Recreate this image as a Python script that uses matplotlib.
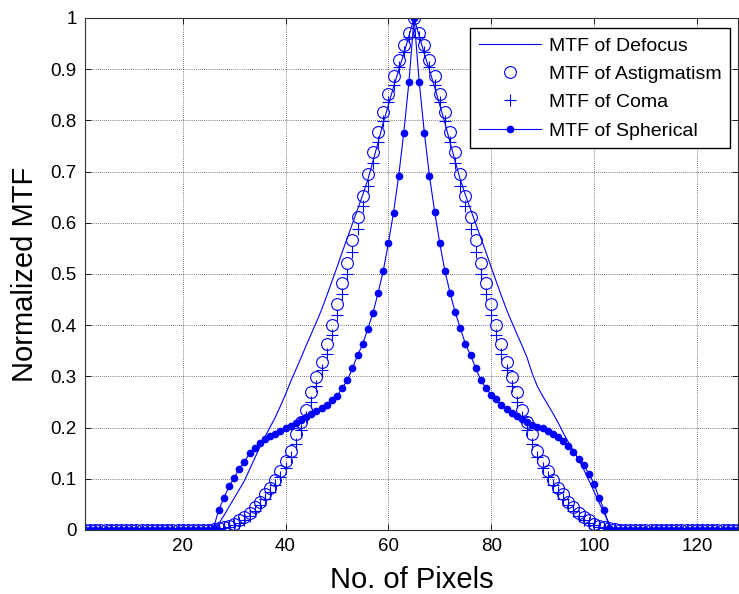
import numpy as np
import matplotlib
matplotlib.use("Agg")
import matplotlib.pyplot as plt

plt.rcParams['font.family'] = ['Liberation Sans', 'DejaVu Sans']

# pixel index 1..128
pixels = list(range(1, 129))

# MTF of Defocus
defocus = ([0.0] * 25 +
           [0.0, 0.012, 0.028, 0.045, 0.062, 0.079, 0.096, 0.118, 0.140, 0.162,
            0.182, 0.201, 0.220, 0.242, 0.265, 0.290, 0.313, 0.336, 0.360, 0.383,
            0.406, 0.430, 0.457, 0.485, 0.513, 0.542, 0.570, 0.598, 0.626, 0.654,
            0.684, 0.720, 0.757, 0.795, 0.830, 0.865, 0.898, 0.930, 0.965, 1.000,
            0.965, 0.930, 0.898, 0.865, 0.830, 0.795, 0.757, 0.720, 0.684, 0.654,
            0.626, 0.598, 0.570, 0.542, 0.513, 0.485, 0.457, 0.430, 0.406, 0.383,
            0.360, 0.336, 0.305, 0.280, 0.262, 0.245, 0.228, 0.210, 0.190, 0.172,
            0.155, 0.138, 0.118, 0.097, 0.075, 0.053, 0.032, 0.012, 0.0] +
           [0.0] * 24)

# MTF of Astigmatism
astig = ([0.0] * 25 +
         [0.002, 0.004, 0.006, 0.008, 0.012, 0.019, 0.025, 0.034, 0.045, 0.055,
          0.070, 0.082, 0.097, 0.115, 0.134, 0.155, 0.187, 0.210, 0.235, 0.270,
          0.298, 0.329, 0.363, 0.401, 0.441, 0.482, 0.521, 0.567, 0.612, 0.652,
          0.695, 0.739, 0.777, 0.817, 0.852, 0.886, 0.917, 0.947, 0.971, 1.000,
          0.971, 0.947, 0.917, 0.886, 0.852, 0.817, 0.777, 0.739, 0.695, 0.652,
          0.612, 0.567, 0.521, 0.482, 0.441, 0.401, 0.363, 0.329, 0.298, 0.270,
          0.235, 0.210, 0.187, 0.155, 0.134, 0.115, 0.097, 0.082, 0.070, 0.055,
          0.045, 0.034, 0.025, 0.019, 0.012, 0.008, 0.006, 0.004, 0.002] +
         [0.0] * 24)

# MTF of Coma
coma = ([0.0] * 25 +
        [0.001, 0.002, 0.004, 0.006, 0.009, 0.014, 0.020, 0.028, 0.037, 0.048,
         0.060, 0.074, 0.088, 0.104, 0.122, 0.142, 0.168, 0.196, 0.220, 0.250,
         0.282, 0.312, 0.344, 0.380, 0.420, 0.460, 0.500, 0.542, 0.588, 0.632,
         0.672, 0.716, 0.758, 0.798, 0.836, 0.870, 0.904, 0.934, 0.962, 1.000,
         0.962, 0.934, 0.904, 0.870, 0.836, 0.798, 0.758, 0.716, 0.672, 0.632,
         0.588, 0.542, 0.500, 0.460, 0.420, 0.380, 0.344, 0.312, 0.282, 0.250,
         0.220, 0.196, 0.168, 0.142, 0.122, 0.104, 0.088, 0.074, 0.060, 0.048,
         0.037, 0.028, 0.020, 0.014, 0.009, 0.006, 0.004, 0.002, 0.001] +
        [0.0] * 24)

# MTF of Spherical
spherical = ([0.0] * 25 +
             [0.004, 0.039, 0.062, 0.085, 0.101, 0.120, 0.133, 0.150, 0.160, 0.170,
              0.177, 0.183, 0.188, 0.193, 0.199, 0.204, 0.209, 0.214, 0.220, 0.227,
              0.232, 0.238, 0.244, 0.253, 0.261, 0.277, 0.292, 0.316, 0.341, 0.363,
              0.393, 0.424, 0.463, 0.506, 0.560, 0.620, 0.691, 0.776, 0.875, 1.000,
              0.875, 0.776, 0.691, 0.622, 0.560, 0.506, 0.463, 0.425, 0.394, 0.363,
              0.341, 0.316, 0.292, 0.277, 0.264, 0.255, 0.244, 0.236, 0.229, 0.222,
              0.216, 0.211, 0.206, 0.202, 0.199, 0.194, 0.188, 0.182, 0.174, 0.165,
              0.153, 0.138, 0.126, 0.110, 0.090, 0.062, 0.039, 0.004, 0.0] +
             [0.0] * 24)

labels = ['MTF of Defocus', 'MTF of Astigmatism', 'MTF of Coma', 'MTF of Spherical']
x_ticks = [20, 40, 60, 80, 100, 120]
y_ticks = [0, 0.1, 0.2, 0.3, 0.4, 0.5, 0.6, 0.7, 0.8, 0.9, 1]
y_tick_labels = ['0', '0.1', '0.2', '0.3', '0.4', '0.5', '0.6', '0.7', '0.8', '0.9', '1']

blue = (0, 0, 1)
fig = plt.figure(figsize=(7.39, 5.94), dpi=100)
ax = fig.add_axes([85 / 739, 64 / 594, 653 / 739, 512 / 594])

ax.plot(pixels, defocus, '-', color=blue, lw=0.8, label=labels[0])
ax.plot(pixels, astig, 'o', color=blue, mfc='none', ms=8.5, mew=0.8, label=labels[1])
ax.plot(pixels, coma, '+', color=blue, ms=9, mew=0.8, label=labels[2])
ax.plot(pixels, spherical, '-o', color=blue, lw=0.8, ms=4.5, label=labels[3])

ax.set_xlim(1, 128)
ax.set_ylim(0, 1)
ax.set_xticks(x_ticks)
ax.set_yticks(y_ticks)
ax.set_yticklabels(y_tick_labels)
ax.tick_params(direction='in', top=True, right=True, labelsize=13.5, length=4,
               width=0.6, pad=6)
ax.grid(True, color='black', linestyle=(0, (1, 2)), lw=0.5)
for s in ax.spines.values():
    s.set_linewidth(0.8)
    s.set_color('#333333')

ax.set_xlabel('No. of Pixels', fontsize=21, labelpad=8)
ax.set_ylabel('Normalized MTF', fontsize=21, labelpad=8)

leg = ax.legend(loc='upper right', bbox_to_anchor=(0.988, 0.98), borderaxespad=0,
                fontsize=14, handlelength=3.2, handletextpad=0.4,
                labelspacing=0.55, borderpad=0.45,
                fancybox=False, framealpha=1, edgecolor='black')
leg.get_frame().set_linewidth(1.0)

fig.savefig('out.png', dpi=100)
